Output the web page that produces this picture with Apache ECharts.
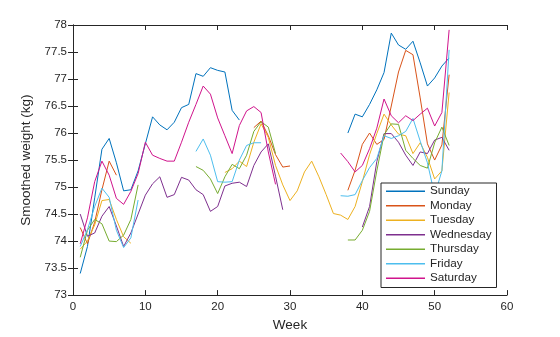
<!DOCTYPE html>
<html>
<head>
<meta charset="utf-8">
<script src="https://cdn.jsdelivr.net/npm/echarts@6/dist/echarts.min.js"></script>
<style>html,body{margin:0;padding:0;background:#fff;}#c{width:560px;height:337px;}</style>
</head>
<body>
<div id="c"></div>
<script>
var weeks = [1,2,3,4,5,6,7,8,9,10,11,12,13,14,15,16,17,18,19,20,21,22,23,24,25,26,
             27,28,29,30,31,32,33,34,35,36,37,38,39,40,41,42,43,44,45,46,47,48,49,50,51,52];
var dayNames = ['Sunday','Monday','Tuesday','Wednesday','Thursday','Friday','Saturday'];
var xTicks = [0,10,20,30,40,50,60];
var yTicks = [73,73.5,74,74.5,75,75.5,76,76.5,77,77.5,78];

var sunday = [73.4,73.9,74.8,75.7,75.9,75.45,74.93,74.95,75.3,75.8,76.3,76.15,76.06,76.2,76.47,76.53,77.1,77.05,77.21,77.16,77.13,76.42,76.24,
  null,null,null,null,null,null,null,null,null,null,null,null,null,null,
  76.0,76.35,76.3,76.53,76.8,77.12,77.85,77.63,77.55,77.7,77.3,76.87,77.02,77.24,77.39];
var monday = [74.25,73.95,74.35,74.95,75.48,75.22,
  null,null,null,null,null,null,null,null,null,null,null,null,null,null,null,null,null,null,
  76.1,76.22,75.95,75.6,75.37,75.39,
  null,null,null,null,null,null,null,
  74.94,75.31,75.79,76.0,75.79,75.88,76.5,77.13,77.53,77.45,76.65,75.8,75.5,75.78,77.08];
var tuesday = [73.85,74.0,74.3,74.75,74.77,74.4,74.08,73.96,
  null,null,null,null,null,null,null,null,null,null,null,null,
  75.27,75.34,75.48,75.38,75.83,76.17,75.92,75.4,75.04,74.75,74.93,75.28,75.48,75.19,74.86,74.51,74.48,
  74.4,74.64,75.1,75.6,75.99,76.35,76.15,75.98,75.95,75.62,75.82,75.55,75.15,75.3,76.75];
var wednesday = [74.5,74.09,74.15,74.46,74.64,74.28,73.9,74.15,74.5,74.85,75.06,75.19,74.81,74.86,75.18,75.13,74.95,74.86,74.55,74.64,
  75.02,75.07,75.09,75.01,75.4,75.65,75.8,75.2,74.58,
  null,null,null,null,null,null,null,null,null,null,
  74.26,74.64,75.47,75.99,75.99,75.83,75.59,75.4,75.65,75.62,75.87,75.92,75.68];
var thursday = [73.7,74.2,74.4,74.32,74.0,73.99,74.11,74.4,75.04,
  null,null,null,null,null,null,null,
  75.38,75.31,75.15,74.88,75.19,75.42,75.34,75.59,76.03,76.21,76.11,75.62,
  null,null,null,null,null,null,null,null,null,
  74.02,74.02,74.2,74.55,75.3,75.97,76.17,76.16,75.68,75.53,75.4,75.35,75.82,76.11,75.77];
var friday = [73.9,74.21,74.64,74.98,74.81,74.2,73.88,74.06,74.76,
  null,null,null,null,null,null,null,
  75.66,75.89,75.59,75.1,75.09,75.1,75.5,75.77,75.82,75.82,
  null,null,null,null,null,null,null,null,null,null,
  74.84,74.83,74.86,75.12,75.36,75.53,75.95,75.9,75.95,76.03,76.27,75.85,75.45,74.85,75.3,77.54];
var saturday = [73.95,74.43,75.1,75.48,75.22,74.79,74.68,74.92,75.25,75.83,75.59,75.53,75.48,75.48,75.83,76.2,76.53,76.87,76.72,76.28,
  75.95,75.62,76.14,76.41,76.49,76.38,75.65,75.05,
  null,null,null,null,null,null,null,null,
  75.63,75.47,75.28,75.4,75.71,76.09,76.63,76.32,76.19,76.32,76.23,76.35,76.46,76.13,76.38,77.91];

var dayValues = [sunday, monday, tuesday, wednesday, thursday, friday, saturday];
var colors = ['#0072BD','#D95319','#EDB120','#7E2F8E','#77AC30','#4DBEEE','#D0148C'];

var FONT = 'Liberation Sans, Arial, Helvetica, sans-serif';
var TXT = '#262626';

function pairs(vals){ return weeks.map(function(w,i){ return [w, vals[i]]; }); }

var series = dayNames.map(function(n,i){
  return {
    name: n, type: 'line', data: pairs(dayValues[i]),
    showSymbol: false, symbol: 'none', connectNulls: false,
    lineStyle: { width: 1, color: colors[i] }, itemStyle: { color: colors[i] },
    emphasis: { disabled: true }, animation: false
  };
});

var axisLineStyle = { show: true, lineStyle: { color: TXT, width: 1 } };
var tickStyle = { show: true, inside: true, length: 5, lineStyle: { color: TXT, width: 1 } };

var chart = echarts.init(document.getElementById('c'), null, { renderer: 'canvas' });
chart.setOption({
  animation: false,
  backgroundColor: '#fff',
  color: colors,
  grid: { left: 73, right: 53, top: 25, bottom: 39, containLabel: false },
  xAxis: [{
    type: 'value', min: xTicks[0], max: xTicks[xTicks.length-1], interval: 10,
    position: 'bottom', name: 'Week', nameLocation: 'middle', nameGap: 21,
    nameTextStyle: { color: TXT, fontSize: 13.5, fontFamily: FONT },
    axisLine: axisLineStyle, axisTick: tickStyle, splitLine: { show: false },
    axisLabel: { color: TXT, fontSize: 11.5, fontFamily: FONT, margin: 6 }
  },{
    type: 'value', min: xTicks[0], max: xTicks[xTicks.length-1], interval: 10,
    position: 'top', axisLine: axisLineStyle, axisTick: tickStyle,
    axisLabel: { show: false }, splitLine: { show: false }
  }],
  yAxis: [{
    type: 'value', min: yTicks[0], max: yTicks[yTicks.length-1], interval: 0.5,
    position: 'left', name: 'Smoothed weight (kg)', nameLocation: 'middle', nameGap: 33,
    nameTextStyle: { color: TXT, fontSize: 13.5, fontFamily: FONT },
    axisLine: axisLineStyle, axisTick: tickStyle, splitLine: { show: false },
    axisLabel: { color: TXT, fontSize: 11.5, fontFamily: FONT, margin: 6 }
  },{
    type: 'value', min: yTicks[0], max: yTicks[yTicks.length-1], interval: 0.5,
    position: 'right', axisLine: axisLineStyle, axisTick: tickStyle,
    axisLabel: { show: false }, splitLine: { show: false }
  }],
  legend: {
    orient: 'vertical', left: 381, top: 183,
    backgroundColor: '#fff', borderColor: TXT, borderWidth: 1, borderRadius: 0,
    padding: [1, 5, 2, 5], itemGap: 0, itemWidth: 39, itemHeight: 1.3,
    icon: 'rect',
    textStyle: { color: TXT, fontSize: 11.7, fontFamily: FONT, lineHeight: 14.5 },
    data: dayNames, selectedMode: false
  },
  series: series
});
</script>
</body>
</html>
